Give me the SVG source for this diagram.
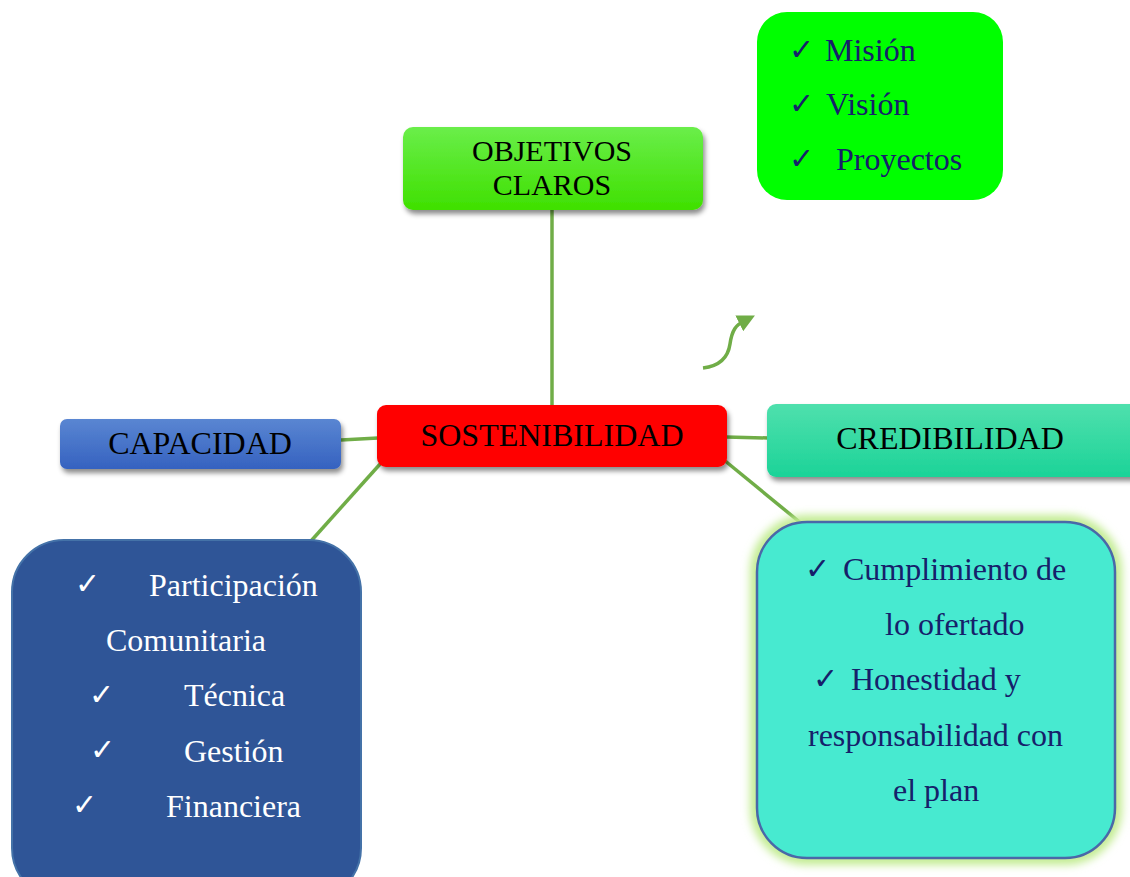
<svg xmlns="http://www.w3.org/2000/svg" width="1130" height="877" viewBox="0 0 1130 877">
<style>
.t{font-family:"Liberation Serif","Times New Roman",serif;font-size:32px;}
.t2{font-family:"Liberation Serif","Times New Roman",serif;font-size:30px;}
.ck{font-family:"DejaVu Sans",sans-serif;font-size:30px;}
.blk{fill:#000;}
.nv{fill:#16206a;}
.wh{fill:#fff;}
.con{stroke:#70ad47;stroke-width:3.5;fill:none;}
</style>
<defs>
<filter id="sh" x="-10%" y="-20%" width="130%" height="160%">
<feDropShadow dx="2" dy="4" stdDeviation="2.5" flood-color="#000" flood-opacity="0.45"/>
</filter>
<filter id="glow" x="-10%" y="-10%" width="120%" height="120%">
<feGaussianBlur stdDeviation="4"/>
</filter>
<linearGradient id="gGreen" x1="0" y1="0" x2="0" y2="1">
<stop offset="0" stop-color="#6aee4a"/><stop offset="1" stop-color="#3fe000"/>
</linearGradient>
<linearGradient id="gBlue" x1="0" y1="0" x2="0" y2="1">
<stop offset="0" stop-color="#5a86d2"/><stop offset="1" stop-color="#3562c0"/>
</linearGradient>
<linearGradient id="gTeal" x1="0" y1="0" x2="0" y2="1">
<stop offset="0" stop-color="#4fe0ad"/><stop offset="1" stop-color="#1cd398"/>
</linearGradient>
<marker id="ah" markerWidth="5" markerHeight="5" refX="1.5" refY="2.5" orient="auto" markerUnits="strokeWidth">
<path d="M0,0 L5,2.5 L0,5 z" fill="#70ad47"/>
</marker>
</defs>
<g id="connectors">
<line class="con" x1="552" y1="210" x2="552" y2="406"/>
<line class="con" x1="341" y1="440" x2="378" y2="438"/>
<line class="con" x1="726" y1="437" x2="768" y2="438"/>
<line class="con" x1="381" y1="463" x2="311" y2="541"/>
<line class="con" x1="724" y1="460" x2="802" y2="524"/>
<path class="con" stroke-width="5" d="M703,368 C720,366 728,358 730,344 C732,330 736,325 744,321" marker-end="url(#ah)"/>
</g>
<g id="objetivos">
<rect x="403" y="127" width="300" height="83" rx="10" fill="url(#gGreen)" filter="url(#sh)"/>
<text class="t2 blk" x="552" y="161" text-anchor="middle">OBJETIVOS</text>
<text class="t2 blk" x="552" y="195" text-anchor="middle">CLAROS</text>
</g>
<g id="sostenibilidad">
<rect x="377" y="405" width="350" height="62" rx="9" fill="#ff0000" filter="url(#sh)"/>
<text class="t blk" x="552" y="446" text-anchor="middle">SOSTENIBILIDAD</text>
</g>
<g id="capacidad">
<rect x="60" y="419" width="281" height="50" rx="7" fill="url(#gBlue)" filter="url(#sh)"/>
<text class="t blk" x="200" y="454" text-anchor="middle">CAPACIDAD</text>
</g>
<g id="credibilidad">
<rect x="767" y="404" width="375" height="73" rx="9" fill="url(#gTeal)" filter="url(#sh)"/>
<text class="t blk" x="950" y="449" text-anchor="middle">CREDIBILIDAD</text>
</g>
<g id="mision">
<rect x="757" y="12" width="246" height="188" rx="30" fill="#00ff00"/>
<text class="ck nv" x="789" y="60">✓</text>
<text class="t nv" x="825" y="61">Misión</text>
<text class="ck nv" x="789" y="114">✓</text>
<text class="t nv" x="826" y="115">Visión</text>
<text class="ck nv" x="789" y="169">✓</text>
<text class="t nv" x="836" y="170">Proyectos</text>
</g>
<g id="capacidad-lista">
<rect x="12" y="540" width="349" height="360" rx="52" fill="#2f5597" stroke="#4472a8" stroke-width="2"/>
<text class="ck wh" x="75" y="594">✓</text>
<text class="t wh" x="149" y="596">Participación</text>
<text class="t wh" x="106" y="651">Comunitaria</text>
<text class="ck wh" x="89" y="705">✓</text>
<text class="t wh" x="184" y="706">Técnica</text>
<text class="ck wh" x="90" y="760">✓</text>
<text class="t wh" x="184" y="762">Gestión</text>
<text class="ck wh" x="72" y="815">✓</text>
<text class="t wh" x="166" y="817">Financiera</text>
</g>
<g id="credibilidad-lista">
<rect x="757" y="522" width="358" height="336" rx="50" fill="none" stroke="#c2ec92" stroke-width="14" filter="url(#glow)"/>
<rect x="757" y="522" width="358" height="336" rx="50" fill="#47ead0" stroke="#4a68a8" stroke-width="2.5"/>
<text class="ck nv" x="805" y="579">✓</text>
<text class="t nv" x="843" y="580">Cumplimiento de</text>
<text class="t nv" x="885" y="635">lo ofertado</text>
<text class="ck nv" x="813" y="689">✓</text>
<text class="t nv" x="851" y="690">Honestidad y</text>
<text class="t nv" x="808" y="746">responsabilidad con</text>
<text class="t nv" x="893" y="801">el plan</text>
</g>
</svg>
